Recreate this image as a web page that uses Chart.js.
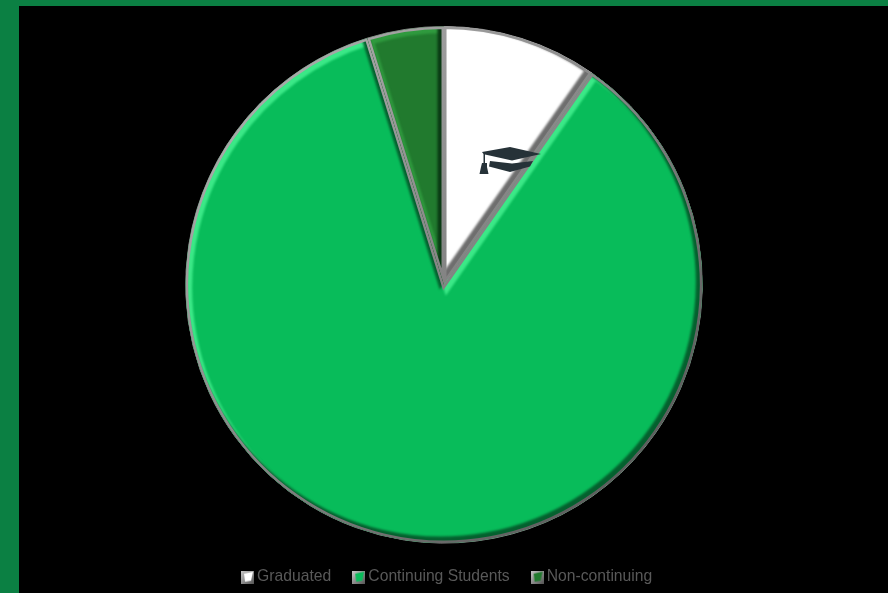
<!DOCTYPE html>
<html>
<head>
<meta charset="utf-8">
<script src="https://cdn.jsdelivr.net/npm/chart.js@4"></script>
<style>
html, body { margin: 0; padding: 0; background: #0b8043; overflow: hidden; }
#frame { position: absolute; left: 19px; top: 6px; width: 869px; height: 587px; background: #000; }
#wrap { position: absolute; left: 0; top: 6px; width: 888px; height: 587px; }
#cap { position: absolute; left: 478px; top: 145px; }
</style>
</head>
<body>
<div id="frame"></div>
<div id="wrap"><canvas id="myChart" width="888" height="587"></canvas></div>
<svg id="cap" width="66" height="32" viewBox="0 0 66 32">
  <path d="M4 7 L32 2 L63 9 L34 15.5 L7 9.5 L7 19 L5.5 19 L5.5 9 Z" fill="#263238"/>
  <path d="M12 16 L34 18.5 L55 16 L52 21.5 L32 27 L11 21.5 Z" fill="#263238"/>
  <path d="M4 18 h5 v4 l1.5 7 h-9 l1.5 -7 z" fill="#263238"/>
</svg>
<script>
var categories = ['Graduated', 'Continuing Students', 'Non-continuing'];
var seriesValues = [9.7, 85.5, 4.8];
var sliceColors = ['#ffffff', '#08bc5a', '#217a2e'];
var edgeLight = ['#ffffff', '#3be887', '#2f9a3e'];
var edgeDark = ['#6e6e6e', '#04602e', '#0a3a14'];

// little bevelled square for the legend
function swatch(color) {
    var c = document.createElement('canvas');
    c.width = 13;
    c.height = 13;
    var x = c.getContext('2d');
    var g = x.createLinearGradient(0, 0, 13, 13);
    g.addColorStop(0, '#c8c8c8');
    g.addColorStop(1, '#555555');
    x.fillStyle = g;
    x.fillRect(0, 0, 13, 13);
    x.fillStyle = color;
    x.beginPath();
    x.moveTo(3, 3);
    x.lineTo(12, 1);
    x.lineTo(10, 10);
    x.lineTo(4, 11);
    x.closePath();
    x.fill();
    return c;
}

// bevel look of the slices, follows each arc element
var bevel = {
    id: 'bevel',
    afterLayout: function(chart) {
        // legend sits a bit right of centre in the original
        chart.legend.left += 10;
    },
    afterDatasetsDraw: function(chart) {
        var ctx = chart.ctx;
        chart.getDatasetMeta(0).data.forEach(function(arc, i) {
            var p = arc.getProps(['x', 'y', 'startAngle', 'endAngle', 'outerRadius'], true);
            var r = p.outerRadius;
            var path = new Path2D();
            path.moveTo(p.x, p.y);
            path.arc(p.x, p.y, r, p.startAngle, p.endAngle);
            path.closePath();
            ctx.save();
            ctx.clip(path);
            ctx.filter = 'blur(1.2px)';
            ctx.lineWidth = 7;
            ctx.save();
            ctx.translate(3, 3);
            ctx.strokeStyle = edgeLight[i];
            ctx.stroke(path);
            ctx.restore();
            ctx.save();
            ctx.translate(-3, -3);
            ctx.strokeStyle = edgeDark[i];
            ctx.stroke(path);
            ctx.restore();
            ctx.filter = 'none';
            var g = ctx.createLinearGradient(p.x - r * 0.7, p.y - r * 0.7, p.x + r * 0.7, p.y + r * 0.7);
            g.addColorStop(0, '#a8a8a8');
            g.addColorStop(1, '#5e5e5e');
            ctx.strokeStyle = g;
            ctx.lineWidth = 5;
            ctx.stroke(path);
            ctx.restore();
        });
    }
};

var ctx = document.getElementById('myChart').getContext('2d');
var myPie = new Chart(ctx, {
    type: 'pie',
    data: {
        labels: categories,
        datasets: [{
            data: seriesValues,
            backgroundColor: sliceColors,
            borderColor: '#8e8e8e',
            borderWidth: 1,
            hoverOffset: 0
        }]
    },
    options: {
        responsive: false,
        animation: false,
        layout: { padding: { top: 20, bottom: -2 } },
        plugins: {
            tooltip: { enabled: false },
            legend: {
                position: 'bottom',
                labels: {
                    usePointStyle: true,
                    pointStyleWidth: 3.5,
                    boxHeight: 13,
                    padding: 25.75,
                    color: '#595959',
                    font: { family: '"Liberation Sans"', size: 15.7 },
                    generateLabels: function(chart) {
                        return categories.map(function(c, i) {
                            return { text: c, pointStyle: swatch(sliceColors[i]), index: i, fontColor: '#595959' };
                        });
                    }
                }
            }
        }
    },
    plugins: [bevel]
});
</script>
</body>
</html>
